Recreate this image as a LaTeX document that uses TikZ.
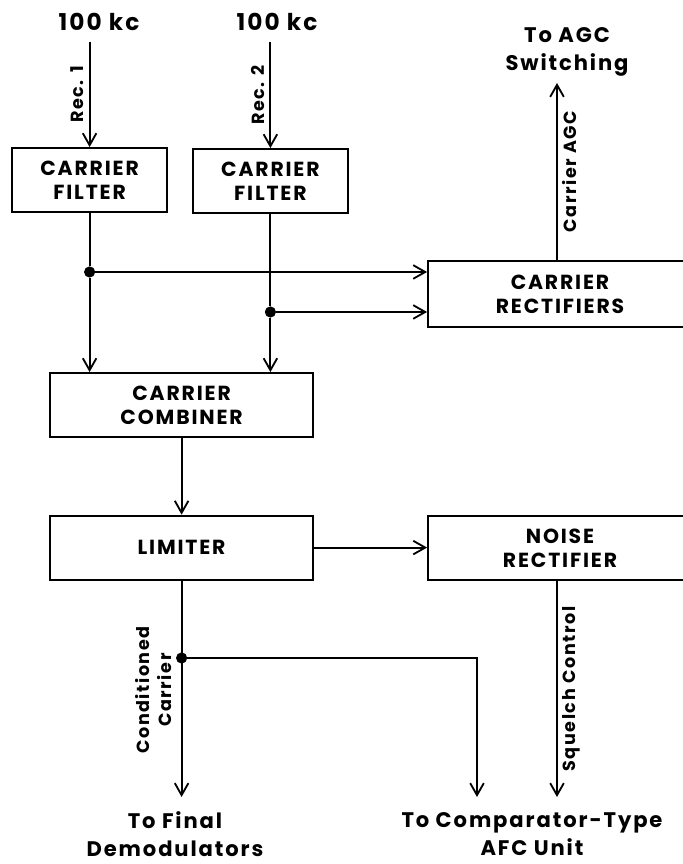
\documentclass[tikz,border=0pt]{standalone}
\usepackage{fontspec}
\setmainfont{Poppins}[LetterSpace=9]
\usetikzlibrary{arrows.meta,positioning,calc}
\tikzset{
  >={Straight Barb[length=3mm,width=3.4mm]},
  blk/.style={draw,line width=1.3pt,minimum width=#1,minimum height=16mm,
    align=center,font=\fontsize{14.5}{17}\selectfont\bfseries},
  blk/.default=38.75mm,
  flow/.style={->,line width=1.3pt},
  wire/.style={line width=1.3pt},
  dot/.style={circle,fill,inner sep=0pt,minimum size=2.8mm},
  tag/.style={font=\fontsize{12.5}{15.5}\selectfont\bfseries,inner sep=3.5pt,align=center},
  term/.style={font=\fontsize{15}{20}\selectfont\bfseries,align=center},
}
\begin{document}
\begin{tikzpicture}
  \useasboundingbox (0,0) rectangle (17.05,21.6);
  % blocks
  \node[blk] (cf1) at (2.24,17.1) {CARRIER\\FILTER};
  \node[blk] (cf2) at (6.76,17.075) {CARRIER\\FILTER};
  \node[blk=65.75mm] (comb) at (4.54,11.475) {CARRIER\\COMBINER};
  \node[blk=65.75mm] (lim) at (4.54,7.91) {LIMITER};
  \node[blk=66mm,minimum height=16.5mm] (crect) at (14,14.25) {CARRIER\\RECTIFIERS};
  \node[blk=66mm] (nrect) at (14,7.89) {NOISE\\RECTIFIER};
  % inputs
  \node[term,font=\fontsize{16.5}{20}\selectfont\bfseries] (src1) at (2.475,21.05) {100 kc};
  \node[term,font=\fontsize{16.5}{20}\selectfont\bfseries] (src2) at (6.925,21.05) {100 kc};
  \coordinate (in1) at (2.24,20.55);
  \coordinate (in2) at (6.76,20.55);
  \draw[flow] (in1) -- node[tag,rotate=90,anchor=south,midway] {Rec. 1} (cf1);
  \draw[flow] (in2) -- node[tag,rotate=90,anchor=south,midway] {Rec. 2} (cf2);
  % junctions
  \node[dot] (j1) at (2.24,14.8) {};
  \node[dot] (j2) at (6.76,13.8) {};
  \draw[wire] (cf1) -- (j1);
  \draw[wire] (cf2) -- (j2);
  \draw[flow] (j1) -- (j1 -| crect.west);
  \draw[flow] (j2) -- (j2 -| crect.west);
  \draw[flow] (j1) -- (j1 |- comb.north);
  \draw[flow] (j2) -- (j2 |- comb.north);
  % agc
  \node[term] (agc) at (14.175,20.3) {To AGC\\Switching};
  \coordinate (agcin) at (13.925,19.525);
  \draw[flow] (agcin |- crect.north) -- node[tag,rotate=90,anchor=north,midway] {Carrier AGC} (agcin);
  \draw[flow] (comb) -- (lim);
  \draw[flow] (lim) -- (lim -| nrect.west);
  % outputs
  \coordinate (out1) at (4.54,1.675);
  \coordinate (out2) at (11.925,1.675);
  \coordinate (out3) at (13.925,1.675);
  \node[dot] (j3) at (4.54,5.15) {};
  \draw[flow] (lim) -- (out1);
  \node[tag,rotate=90] (cond) at (3.83,4.35) {Conditioned\\Carrier};
  \draw[flow] (j3) -| (out2);
  \draw[flow] (out3 |- nrect.south) -- node[tag,rotate=90,anchor=north,midway] {Squelch Control} (out3);
  \node[term] (fin) at (4.375,0.75) {To Final\\Demodulators};
  \node[term] (afc) at (13.3,0.75) {To Comparator-Type\\AFC Unit};
\end{tikzpicture}
\end{document}
